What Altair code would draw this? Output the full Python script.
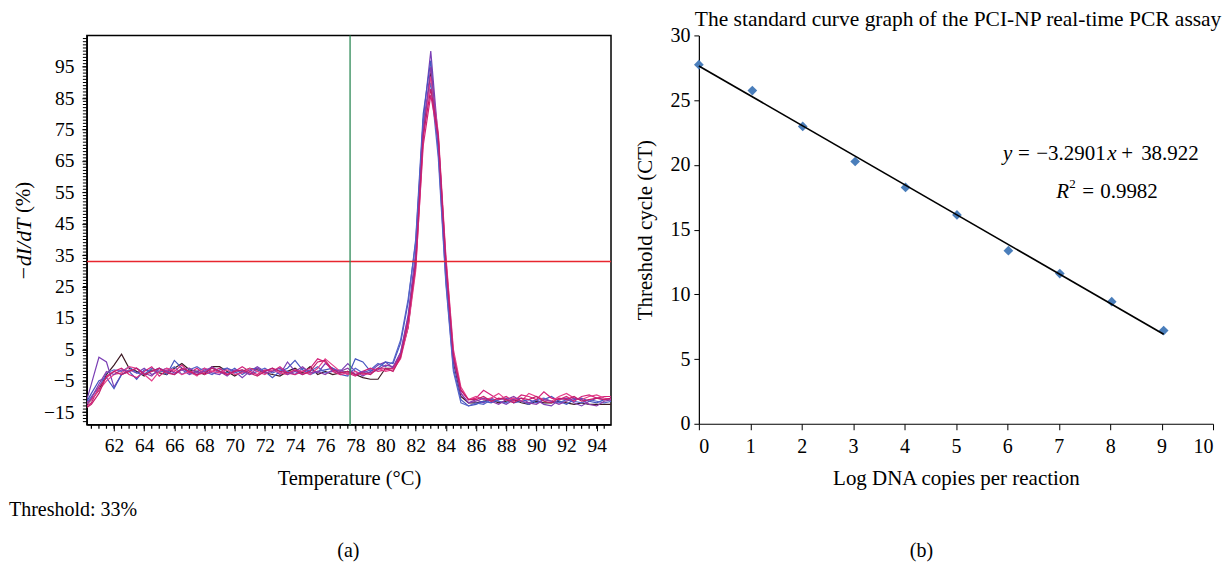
import altair as alt
import pandas as pd

FONT = "Liberation Serif"

# ---------------- panel (a): melt curves ----------------
temps = [60.2,
         60.5, 61.0, 61.5, 62.0, 62.5, 63.0, 63.5, 64.0, 64.5, 65.0,
         65.5, 66.0, 66.5, 67.0, 67.5, 68.0, 68.5, 69.0, 69.5, 70.0,
         70.5, 71.0, 71.5, 72.0, 72.5, 73.0, 73.5, 74.0, 74.5, 75.0,
         75.5, 76.0, 76.5, 77.0, 77.5, 78.0, 78.5, 79.0, 79.5, 80.0,
         80.5, 81.0, 81.5, 82.0, 82.5, 83.0, 83.5, 84.0, 84.5, 85.0,
         85.5, 86.0, 86.5, 87.0, 87.5, 88.0, 88.5, 89.0, 89.5, 90.0,
         90.5, 91.0, 91.5, 92.0, 92.5, 93.0, 93.5, 94.0, 94.5, 95.0]

curve_names = ["A", "B", "C", "D", "E", "F", "G", "H"]
curve_colors = ["#3d1a24", "#7b3fb5", "#4656c0", "#5563c8",
                "#d4237a", "#e5408a", "#8e3aa8", "#c41e6a"]

curve_A = [-12.5, -11, -8, -3, 0, 3.5, -1, -2, -3.5, -1.5,
           -2.5, -3, -1, 0.5, -1.5, -2, -3, -0.5, -0.5, -2,
           -3.5, -2, -1, -1.5, -2.5, -3, -3.5, -2, -1, -2.5,
           -0.5, -3, -2, -3, -2.5, -2, -3, -4, -4.5, -4.5,
           -1, -1, 3, 12, 33, 74, 93, 70, 31, 1,
           -10, -12, -12, -11.5, -11, -12, -11.5, -11, -12, -12.5,
           -11.5, -12, -12, -11.5, -12, -12.5, -12, -12.5, -12.5, -12.5,
           -12.5]
curve_B = [-11, -6, 2.5, 1, -7, -3, -1.5, -2.5, -1, -3,
           -2, -1, -2.5, -1.5, -3, -2, -1, -2.5, -3, -1,
           -2, -4, -2, -0.5, -2, -1, -3, 1, -2, -3,
           -1.5, -2.5, 0.5, -1, -2, 0.5, -2, -3.5, -2, 0,
           1, -1, 4, 16, 36, 78, 100, 72, 32, 2,
           -9, -12, -11, -12, -10.5, -11.5, -12.5, -11, -10.5, -12,
           -11, -12.5, -13, -11, -10.5, -12, -13, -11.5, -10.5, -11,
           -11]
curve_C = [-11.5, -9, -5, -4, -7.5, -3, -2, -4.5, -1.5, -2,
           -1, -3, 1.5, -1, -2.5, -3, -1.5, -1, -2, -2.5,
           -1, -3, -1.5, -1, -2, -4, -2, -1, 1.5, -1.5,
           -3, -2, -1.5, -1, -3, -3.5, 2, 1, -2, -1,
           1, 0.5, 7, 20, 40, 80, 97, 68, 27, -1,
           -11, -13, -12.5, -11.5, -12, -11, -10.5, -12, -11.5, -11,
           -12, -11, -10, -11.5, -12.5, -11, -10.5, -11.5, -12, -11,
           -10.5]
curve_D = [-12, -10, -7, -2.5, -1.5, -2, -0.5, -2.5, -3, -1,
           -2, -2, -0.5, -3, -1.5, -0.5, -2, -3, -1.5, -1,
           -2.5, -1.5, -3, -2, -1, -2.5, -1.5, -2, -3, -1,
           -2, -0.5, -2.5, -2, -1.5, -3, -1, -2.5, -1.5, 0.5,
           -0.5, 1, 8, 21, 39, 78, 90, 66, 26, -2,
           -12, -13, -12, -12.5, -11, -11.5, -12, -10.5, -11.5, -12.5,
           -11, -10.5, -11.5, -12, -11, -11.5, -12, -11, -11.5, -12,
           -11.5]
curve_E = [-13, -12, -7, -4, -2, -1, -3, -4, -2, -0.5,
           -3.5, -1.5, -2, 0, -2.5, -1, -3, -2, -1, -3,
           -2, -0.5, -2, -3, -1.5, -2, -0.5, -2.5, -3, -2,
           -1, 2, 1, -2, -3, -2.5, -3.5, -2, -1, -2,
           -1.5, -1, 3, 13, 31, 70, 86, 72, 34, 4,
           -8, -11, -10.5, -8, -9.5, -11, -10, -11.5, -9.5, -10,
           -11, -8.5, -10.5, -11, -10, -11.5, -10, -9.5, -10.5, -10,
           -10]
curve_F = [-12, -11, -8, -5, -3, -2.5, -0.5, -1, -3, -5,
           -2, -1, -1.5, -3, -2, -3.5, -1, -2, -2.5, -1.5,
           -3, -2.5, -1, -2, -3, -1.5, -2.5, -3, -1.5, -2,
           -3, -1, 2, 0, -2, -3, -2, -3, -2.5, -1,
           -2, -1.5, 2, 12, 30, 72, 92, 74, 35, 5,
           -7, -11, -10, -11, -10.5, -9, -11, -10.5, -11.5, -9,
           -10, -11, -11.5, -10, -9, -10.5, -11, -10, -9.5, -10.5,
           -11]
curve_G = [-12.5, -10.5, -6, -2, -3, -1.5, -2, -1, -2.5, -3.5,
           -1, -2, -3, -1.5, -1, -2.5, -2, -0.5, -2, -3.5,
           -1.5, -2, -3, -1, -2.5, -2, -1, -3, -2, -0.5,
           -2.5, -2, -3, -1.5, -2, -1, -3, -2, -2.5, -1.5,
           0, -0.5, 4, 15, 34, 75, 95, 71, 31, 2,
           -9, -12, -11.5, -10.5, -11.5, -12.5, -11, -10, -11.5, -12,
           -12.5, -11, -11.5, -12.5, -11.5, -10.5, -11, -12.5, -13, -11.5,
           -11]
curve_H = [-13.5, -12.5, -9, -3.5, -2, -3, -2, -1, -3, -2,
           -1, -2.5, -3, -1, -2, -3, -2.5, -1, -2, -3,
           -2, -1.5, -2.5, -3.5, -2, -1, -2, -2.5, -1.5, -3,
           -2, 1, 1.5, -1.5, -2.5, -2, -3, -2.5, -3, -1,
           -1, -2, 2.5, 14, 32, 73, 88, 73, 33, 3,
           -8, -11, -11, -10, -11.5, -10.5, -11, -12, -10.5, -11,
           -10, -11.5, -12, -10.5, -11, -10, -11.5, -11, -10.5, -11,
           -10.5]

curves = [curve_A, curve_B, curve_C, curve_D, curve_E, curve_F, curve_G, curve_H]

x_major = [62, 64, 66, 68, 70, 72, 74, 76, 78, 80, 82, 84, 86, 88, 90, 92, 94]
y_major = [-15, -5, 5, 15, 25, 35, 45, 55, 65, 75, 85, 95]
x_minor = [60.5 + 0.5 * k for k in range(69)]
y_minor = list(range(-18, 105))
threshold = [33]
marker_temp = [77.65]

# ---------------- panel (b): standard curve ----------------
log_copies = [0.0, 1.04, 2.02, 3.04, 4.02, 5.02, 6.02, 7.02, 8.03, 9.04]
ct_values = [27.74, 25.74, 22.97, 20.26, 18.26, 16.13, 13.37, 11.6, 9.43, 7.2]
x_ticks_b = [0, 1, 2, 3, 4, 5, 6, 7, 8, 9, 10]
y_ticks_b = [0, 5, 10, 15, 20, 25, 30]

W1, H1 = 525, 390
W2, H2 = 515, 389

rows = []
for name, vals in zip(curve_names, curves):
    for t, v in zip(temps, vals):
        rows.append({"curve": name, "temp": t, "val": v})
melt_df = pd.DataFrame(rows)
std_df = pd.DataFrame({"logc": log_copies, "ct": ct_values})
one = pd.DataFrame({"a": [0]})

xsc = alt.Scale(domain=[60.2, 94.95], nice=False, zero=False)
ysc = alt.Scale(domain=[-19, 105], nice=False, zero=False)

x_axis_a = alt.Axis(values=x_major, title="Temperature (°C)", tickSize=6, labelPadding=6,
                    titlePadding=13, grid=False, labelFontSize=19.5, titleFontSize=20.5)
y_axis_a = alt.Axis(values=y_major, title=None, tickSize=5, labelPadding=8, grid=False,
                    labelFontSize=19.5)

X_a = lambda f: alt.X(f, type="quantitative", scale=xsc, axis=x_axis_a)
Y_a = lambda f: alt.Y(f, type="quantitative", scale=ysc, axis=y_axis_a)

lines = alt.Chart(melt_df).mark_line(strokeWidth=1.2, clip=True).encode(
    x=X_a("temp"), y=Y_a("val"),
    color=alt.Color("curve:N", scale=alt.Scale(domain=curve_names, range=curve_colors), legend=None),
)
thr_rule = alt.Chart(pd.DataFrame({"thr": threshold})).mark_rule(
    stroke="#e8262e", color="#e8262e", strokeWidth=1.4, opacity=1).encode(y=Y_a("thr"))
mk_rule = alt.Chart(pd.DataFrame({"mt": marker_temp})).mark_rule(
    stroke="#2e8b57", color="#2e8b57", strokeWidth=1.3, opacity=1).encode(x=X_a("mt"))
ymin_ticks = alt.Chart(pd.DataFrame({"my": y_minor})).mark_tick(
    color="black", thickness=1, size=4, opacity=1).encode(
    y=Y_a("my"), x=alt.value(-2))
xmin_ticks = alt.Chart(pd.DataFrame({"mx": x_minor})).mark_tick(
    color="black", thickness=1.2, size=4, opacity=1).encode(
    x=X_a("mx"), y=alt.value(H1 + 2))


def label(text, x, y, size=20, style="normal", align="left", angle=0, opacity=1.0, baseline="middle"):
    return alt.Chart(one).mark_text(text=text, font=FONT, fontSize=size, fontStyle=style, align=align,
                                    baseline=baseline, angle=angle, color="black", opacity=opacity).encode(
        x=alt.value(x), y=alt.value(y))


left = alt.layer(
    lines, thr_rule, mk_rule, ymin_ticks, xmin_ticks,
    label("−dI/dT", -63, 246, size=22, style="italic", angle=270),
    label("(%)", -63, 178, size=21, angle=270),
    label("Threshold: 33%", -78, 475, size=20),
    label("(a)", 262, 516, size=20, align="center"),
    label("The", 0, -15, size=21.5, opacity=0),
).properties(width=W1, height=H1, view=alt.ViewBackground(stroke="black", strokeWidth=1.5))

xsc_b = alt.Scale(domain=[0, 10], nice=False)
ysc_b = alt.Scale(domain=[0, 30], nice=False)
x_axis_b = alt.Axis(values=x_ticks_b, title="Log DNA copies per reaction", tickSize=6, labelPadding=7,
                    titlePadding=11, grid=False, labelFontSize=20, titleFontSize=21)
y_axis_b = alt.Axis(values=y_ticks_b, title="Threshold cycle (CT)", tickSize=5, labelPadding=4,
                    titlePadding=14, grid=False, labelFontSize=20, titleFontSize=21)

pts = alt.Chart(std_df).mark_point(shape="diamond", filled=True, size=95, color="#4a7ebb", opacity=1).encode(
    x=alt.X("logc:Q", scale=xsc_b, axis=x_axis_b),
    y=alt.Y("ct:Q", scale=ysc_b, axis=y_axis_b))
reg = alt.Chart(std_df).transform_regression("logc", "ct").mark_line(color="black", strokeWidth=1.7).encode(
    x=alt.X("logc:Q", scale=xsc_b, axis=x_axis_b),
    y=alt.Y("ct:Q", scale=ysc_b, axis=y_axis_b))

right = alt.layer(
    pts, reg,
    label("The standard curve graph of the PCI-NP real-time PCR assay", -4, -15, size=21.5),
    label("y", 304.6, 119, size=21, style="italic"),
    label("=", 319.6, 119, size=21),
    label("−3.2901", 337.9, 119, size=21),
    label("x", 409, 119, size=21, style="italic"),
    label("+", 423, 119, size=21),
    label("38.922", 443, 119, size=21),
    label("R", 358, 157, size=21, style="italic"),
    label("2", 371, 149, size=13),
    label("=", 384, 157, size=21),
    label("0.9982", 402, 157, size=21),
    label("(b)", 223, 516, size=20, align="center"),
).properties(width=W2, height=H2)

chart = alt.hconcat(left, right, spacing=22).properties(padding=0).configure_view(
    stroke=None
).configure_axis(
    labelFont=FONT, titleFont=FONT, labelColor="black", titleColor="black",
    tickColor="black", domainColor="black", titleFontWeight="normal", domainWidth=1.2
).configure_concat(spacing=22)

chart.save("out.html", embed_options={"renderer": "svg", "actions": False})
